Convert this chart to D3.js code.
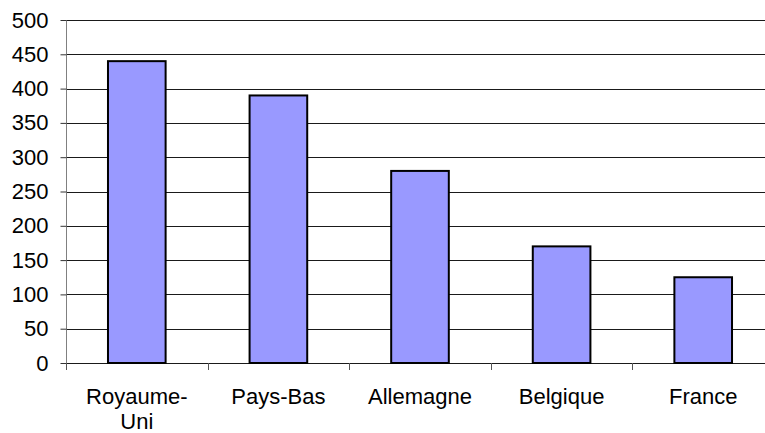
<!DOCTYPE html>
<html>
<head>
<meta charset="utf-8">
<script src="https://cdn.jsdelivr.net/npm/d3@7"></script>
<style>
  html, body { margin: 0; padding: 0; background: #fff; overflow: hidden; }
  svg { display: block; font-family: "Liberation Sans", Arial, sans-serif; }
</style>
</head>
<body>
<svg id="chart" width="765" height="433"></svg>
<script>
const categories = ["Royaume-Uni", "Pays-Bas", "Allemagne", "Belgique", "France"];
const values = [440, 390, 280, 170, 125];
const yTicks = [0, 50, 100, 150, 200, 250, 300, 350, 400, 450, 500];

const svg = d3.select("#chart");
const plotLeft = 66, plotTop = 20, plotBottom = 363, plotRight = 774;
const fontSize = 22;

const x = d3.scaleBand()
  .domain(categories)
  .range([plotLeft, plotRight])
  .paddingInner(0.593)
  .paddingOuter(0.2965);

const y = d3.scaleLinear().domain([0, 500]).range([plotBottom, plotTop]);

// horizontal gridlines
svg.append("g")
  .selectAll("line")
  .data(yTicks)
  .join("line")
  .attr("x1", plotLeft).attr("x2", plotRight)
  .attr("y1", d => Math.round(y(d)) + 0.5)
  .attr("y2", d => Math.round(y(d)) + 0.5)
  .attr("stroke", "#1a1a1a")
  .attr("stroke-width", 1);

// y axis
const yAxis = svg.append("g")
  .attr("transform", `translate(${plotLeft + 0.5},0)`)
  .call(d3.axisLeft(y).tickValues(yTicks).tickSize(6).tickPadding(12).tickFormat(d3.format("d")));
yAxis.select(".domain").attr("stroke", "#808080").attr("d", `M0,${plotTop}V${plotBottom + 6}`);
yAxis.selectAll(".tick line").attr("stroke", "#333");
yAxis.selectAll(".tick text")
  .attr("font-size", fontSize)
  .attr("fill", "#000")
  .attr("font-family", "'Liberation Sans', Arial, sans-serif");

// x axis ticks at band boundaries
const step = x.step();
const bounds = d3.range(categories.length + 1).map(i => plotLeft + i * step);
svg.append("g")
  .selectAll("line")
  .data(bounds)
  .join("line")
  .attr("x1", d => Math.round(d) + 0.5).attr("x2", d => Math.round(d) + 0.5)
  .attr("y1", plotBottom).attr("y2", plotBottom + 7)
  .attr("stroke", "#555");

// bars
svg.append("g")
  .selectAll("rect")
  .data(values)
  .join("rect")
  .attr("x", (d, i) => x(categories[i]))
  .attr("y", d => y(d))
  .attr("width", x.bandwidth())
  .attr("height", d => y(0) - y(d))
  .attr("fill", "#9999ff")
  .attr("stroke", "#000")
  .attr("stroke-width", 2);

// category labels, wrapped after a hyphen when too wide
const labels = svg.append("g")
  .selectAll("text")
  .data(categories)
  .join("text")
  .attr("x", d => x(d) + x.bandwidth() / 2)
  .attr("y", 404)
  .attr("text-anchor", "middle")
  .attr("font-size", fontSize)
  .attr("fill", "#000");

labels.each(function(d) {
  const t = d3.select(this);
  t.text(d);
  if (this.getComputedTextLength() > 110 && d.includes("-")) {
    const idx = d.indexOf("-") + 1;
    const lines = [d.slice(0, idx), d.slice(idx)];
    t.text(null);
    lines.forEach((ln, j) => {
      t.append("tspan")
        .attr("x", x(d) + x.bandwidth() / 2)
        .attr("dy", j === 0 ? 0 : 25)
        .text(ln);
    });
  }
});
</script>
</body>
</html>
